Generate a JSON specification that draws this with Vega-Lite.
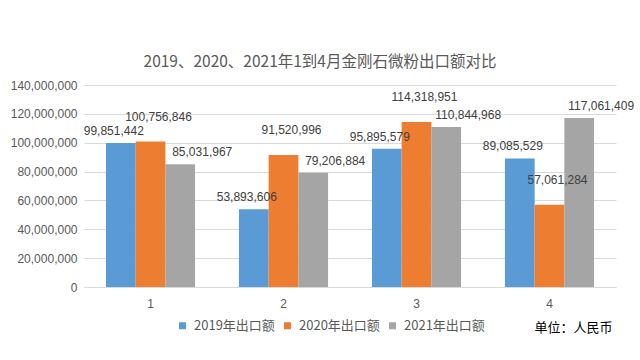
{
  "$schema": "https://vega.github.io/schema/vega-lite/v6.json",
  "width": 532,
  "height": 202,
  "autosize": {"type": "none"},
  "padding": {"left": 84, "top": 85, "right": 24, "bottom": 73},
  "background": "white",
  "title": {
    "text": "2019、2020、2021年1到4月金刚石微粉出口额对比",
    "font": "Noto Sans CJK SC",
    "fontSize": 15.5,
    "fontWeight": "normal",
    "color": "#595959",
    "anchor": "middle",
    "dx": -30,
    "offset": 9
  },
  "data": {
    "values": [
      {"month": "1", "series": "2019年出口额", "value": 99851442},
      {"month": "1", "series": "2020年出口额", "value": 100756846},
      {"month": "1", "series": "2021年出口额", "value": 85031967},
      {"month": "2", "series": "2019年出口额", "value": 53893606},
      {"month": "2", "series": "2020年出口额", "value": 91520996},
      {"month": "2", "series": "2021年出口额", "value": 79206884},
      {"month": "3", "series": "2019年出口额", "value": 95895579},
      {"month": "3", "series": "2020年出口额", "value": 114318951},
      {"month": "3", "series": "2021年出口额", "value": 110844968},
      {"month": "4", "series": "2019年出口额", "value": 89085529},
      {"month": "4", "series": "2020年出口额", "value": 57061284},
      {"month": "4", "series": "2021年出口额", "value": 117061409}
    ]
  },
  "encoding": {
    "x": {
      "field": "month",
      "type": "nominal",
      "scale": {"paddingInner": 0.33, "paddingOuter": 0.165},
      "axis": {
        "title": "单位：人民币",
        "titleFont": "Noto Sans CJK SC",
        "titleFontSize": 13,
        "titleFontWeight": "normal",
        "titleColor": "#000000",
        "titleX": 528,
        "titleY": 40,
        "titleAlign": "right",
        "titleBaseline": "middle",
        "labelAngle": 0,
        "labelFont": "Liberation Sans",
        "labelFontSize": 12,
        "labelColor": "#595959",
        "labelPadding": 11,
        "domainColor": "#D9D9D9",
        "ticks": false,
        "grid": false
      }
    },
    "xOffset": {"field": "series", "type": "nominal"},
    "y": {
      "field": "value",
      "type": "quantitative",
      "scale": {"domain": [0, 140000000]},
      "axis": {
        "title": null,
        "values": [0, 20000000, 40000000, 60000000, 80000000, 100000000, 120000000, 140000000],
        "format": ",.0f",
        "labelFont": "Liberation Sans",
        "labelFontSize": 12,
        "labelColor": "#595959",
        "labelPadding": 7,
        "domain": false,
        "ticks": false,
        "gridColor": "#D9D9D9"
      }
    }
  },
  "layer": [
    {
      "mark": {"type": "bar"},
      "encoding": {
        "color": {
          "field": "series",
          "type": "nominal",
          "scale": {
            "domain": ["2019年出口额", "2020年出口额", "2021年出口额"],
            "range": ["#5B9BD5", "#ED7D31", "#A5A5A5"]
          },
          "legend": {
            "orient": "none",
            "legendX": 92,
            "legendY": 234,
            "direction": "horizontal",
            "title": null,
            "symbolType": "square",
            "symbolSize": 49,
            "symbolStrokeWidth": 0,
            "labelFont": "Noto Sans CJK SC",
            "labelFontSize": 13,
            "labelColor": "#595959",
            "labelOffset": 5,
            "columnPadding": 6,
            "padding": 0
          }
        }
      }
    },
    {
      "transform": [{"filter": "datum.series === '2019年出口额'"}],
      "mark": {"type": "text", "font": "Liberation Sans", "fontSize": 12, "color": "#404040", "baseline": "middle", "dx": -7, "dy": -12},
      "encoding": {"text": {"field": "value", "type": "quantitative", "format": ",.0f"}}
    },
    {
      "transform": [{"filter": "datum.series === '2020年出口额'"}],
      "mark": {"type": "text", "font": "Liberation Sans", "fontSize": 12, "color": "#404040", "baseline": "middle", "dx": 8, "dy": -25},
      "encoding": {"text": {"field": "value", "type": "quantitative", "format": ",.0f"}}
    },
    {
      "transform": [{"filter": "datum.series === '2021年出口额'"}],
      "mark": {"type": "text", "font": "Liberation Sans", "fontSize": 12, "color": "#404040", "baseline": "middle", "dx": 22, "dy": -12},
      "encoding": {"text": {"field": "value", "type": "quantitative", "format": ",.0f"}}
    }
  ],
  "config": {
    "view": {"stroke": null}
  }
}
